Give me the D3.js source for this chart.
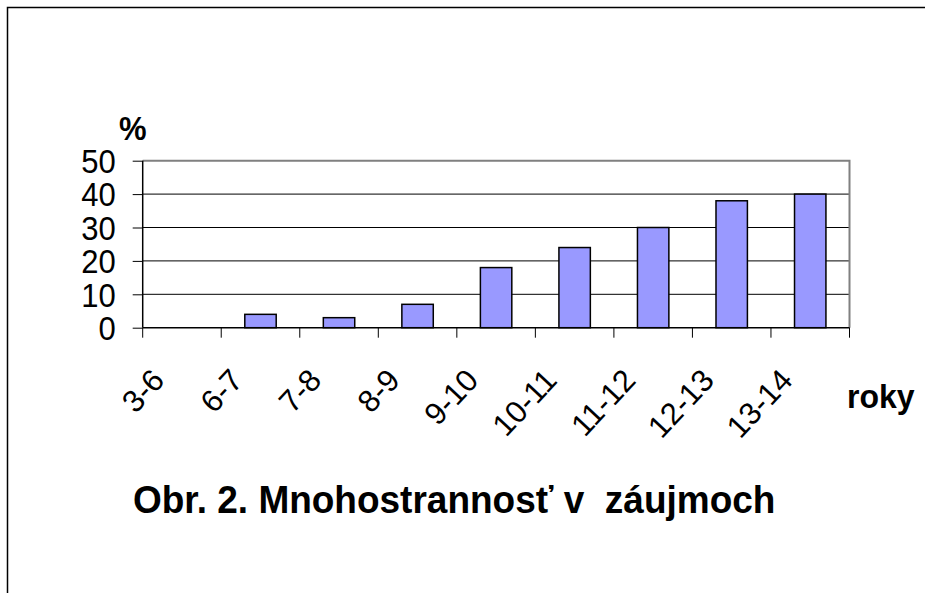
<!DOCTYPE html>
<html><head><meta charset="utf-8">
<script src="https://cdn.jsdelivr.net/npm/d3@7"></script>
<style>html,body{margin:0;padding:0;background:#fff;}svg{display:block;}</style>
</head><body>
<script>
const categories = ["3-6","6-7","7-8","8-9","9-10","10-11","11-12","12-13","13-14"];
const values = [0,4,3,7,18,24,30,38,40];
const yTicks = [0,10,20,30,40,50];
const titleText = "Obr. 2. Mnohostrannosť v  záujmoch";
const yLabel = "%";
const xLabel = "roky";

const W = 925, H = 593;
const svg = d3.select("body").append("svg").attr("width", W).attr("height", H);
svg.append("rect").attr("width", W).attr("height", H).attr("fill", "#fff");

// outer frame (top and left)
svg.append("path").attr("d", "M7.5,593 V7.5 H925").attr("fill","none").attr("stroke","#000").attr("stroke-width",1.5);

const L = 142.7, R = 849.5, T = 160.7, B = 327.7;
const x = d3.scaleBand().domain(categories).range([L, R]).paddingInner(0).paddingOuter(0);
const y = d3.scaleLinear().domain([0, 50]).range([B, T]);
const font = "Arial, 'Liberation Sans', sans-serif";

// gridlines
svg.append("g").selectAll("line").data(yTicks.filter(d => d > 0 && d < 50)).join("line")
  .attr("x1", L).attr("x2", R).attr("y1", d => y(d)).attr("y2", d => y(d))
  .attr("stroke", "#000").attr("stroke-width", 1);

// plot border top & right (gray)
svg.append("path").attr("d", `M${L},${y(50)} H${R} V${B}`).attr("fill","none").attr("stroke","#808080").attr("stroke-width",2);

// bars
const bw = x.bandwidth() * 0.40;
svg.append("g").selectAll("rect").data(values.map((v,i)=>({c:categories[i], v}))).join("rect")
  .filter(d => d.v > 0)
  .attr("x", d => x(d.c) + x.bandwidth()/2 - bw/2)
  .attr("y", d => y(d.v))
  .attr("width", bw)
  .attr("height", d => y(0) - y(d.v))
  .attr("fill", "#9999ff").attr("stroke", "#000").attr("stroke-width", 1.5);

// y axis
const yAxis = d3.axisLeft(y).tickValues(yTicks).tickSize(10).tickPadding(17);
const gy = svg.append("g").attr("transform", `translate(${L},0)`).call(yAxis);
gy.select(".domain").attr("stroke","#000").attr("stroke-width",1.5).attr("d", `M0,${B}V${T}`);
gy.selectAll(".tick line").attr("stroke","#000").attr("stroke-width",1);
gy.selectAll(".tick text").attr("font-family", font).attr("font-size", 31).attr("fill","#000")
  .attr("dy","0.36em").attr("transform","scale(1,1.06)");

// x axis
const gx = svg.append("g").attr("transform", `translate(0,${B})`);
gx.append("line").attr("x1", L).attr("x2", R).attr("y1", 0).attr("y2", 0).attr("stroke","#000").attr("stroke-width",1.5);
const bounds = categories.map(c => x(c)).concat([R]);
gx.selectAll("line.t").data(bounds).join("line").attr("class","t")
  .attr("x1", d => d).attr("x2", d => d).attr("y1", 0).attr("y2", 10)
  .attr("stroke","#000").attr("stroke-width",1);
gx.selectAll("text").data(categories).join("text")
  .attr("transform", d => `translate(${x(d) + x.bandwidth()/2 - 16},${54}) rotate(-47)`)
  .attr("text-anchor","end")
  .attr("font-family", font).attr("font-size", 31).attr("fill","#000")
  .text(d => d);

// labels
svg.append("text").attr("transform","translate(119,140) scale(1,1.08)").attr("font-family", font).attr("font-weight","bold")
  .attr("font-size", 31).text(yLabel);
svg.append("text").attr("transform","translate(847,408) scale(1,1.06)").attr("font-family", font).attr("font-weight","bold")
  .attr("font-size", 32).text(xLabel);
svg.append("text").attr("transform","translate(133,513) scale(1,1.06)").attr("font-family", font).attr("font-weight","bold")
  .attr("font-size", 37).style("white-space","pre").text(titleText);
</script>
</body></html>
